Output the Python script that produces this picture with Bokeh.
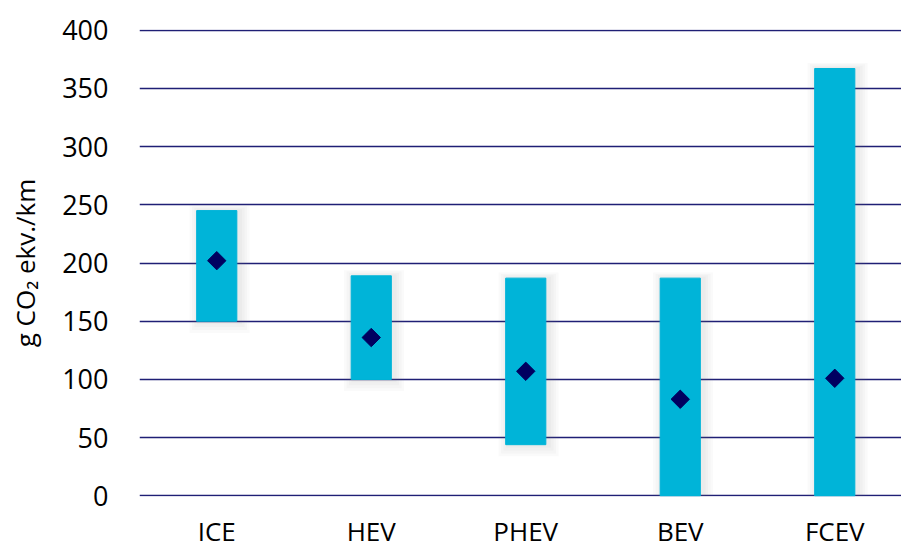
import math
from bokeh.plotting import figure
from bokeh.models import Range1d, FixedTicker, ColumnDataSource
from bokeh.embed import file_html
from bokeh.resources import INLINE

categories = ["ICE", "HEV", "PHEV", "BEV", "FCEV"]
low_values = [150, 100, 44, 0, 0]
high_values = [245, 189, 187, 187, 367]
mid_values = [202, 136, 107, 83, 101]
y_ticks = [0, 50, 100, 150, 200, 250, 300, 350, 400]

positions = [i + 0.5 for i in range(len(categories))]
src = ColumnDataSource(dict(x=positions, low=low_values, high=high_values, mid=mid_values))

FONT = "Open Sans"
BAR_W = 0.26

p = figure(frame_width=762, frame_height=467, output_backend="svg", toolbar_location=None,
           x_range=Range1d(0, 4.932), y_range=Range1d(-0.5, 400.5),
           min_border_left=139, min_border_right=0, min_border_top=29, min_border_bottom=40)
p.outline_line_color = None
p.background_fill_color = "white"

p.xgrid.grid_line_color = None
p.ygrid.grid_line_color = "#1f1f75"
p.ygrid.grid_line_width = 1.3

# soft drop shadow (Excel-style) behind each bar
for k in range(1, 5):
    sh = ColumnDataSource(dict(
        x=[x + 0.018 for x in positions],
        low=[v - 2.5 * k for v in low_values],
        high=[v + 1.2 * k for v in high_values],
    ))
    p.vbar(x="x", bottom="low", top="high", width=BAR_W + 0.032 * k, source=sh,
           fill_color="#808080", fill_alpha=0.04, line_color=None)

p.vbar(x="x", bottom="low", top="high", width=BAR_W, source=src,
       fill_color="#00B4D8", line_color="#00B4D8")
p.scatter(x="x", y="mid", source=src, marker="square", angle=math.pi / 4, size=13,
          fill_color="#000060", line_color="#000060")

p.yaxis.ticker = FixedTicker(ticks=y_ticks)
p.xaxis.ticker = FixedTicker(ticks=positions)
p.xaxis.major_label_overrides = {pos: c for pos, c in zip(positions, categories)}

for ax in (p.xaxis[0], p.yaxis[0]):
    ax.axis_line_color = None
    ax.major_tick_line_color = None
    ax.minor_tick_line_color = None
    ax.major_tick_out = 0
    ax.major_tick_in = 0
    ax.major_label_text_font = FONT
    ax.major_label_text_color = "#000000"
    ax.major_label_text_font_size = "27px"

p.xaxis.major_label_text_font_size = "26px"
p.yaxis.major_label_standoff = 31
p.xaxis.major_label_standoff = 16
p.yaxis.axis_label = "g CO₂ ekv./km"
p.yaxis.axis_label_text_font = FONT
p.yaxis.axis_label_text_font_style = "normal"
p.yaxis.axis_label_text_font_size = "26px"
p.yaxis.axis_label_text_color = "#000000"
p.yaxis.axis_label_standoff = 16

open("out.html", "w").write(file_html(p, INLINE))
